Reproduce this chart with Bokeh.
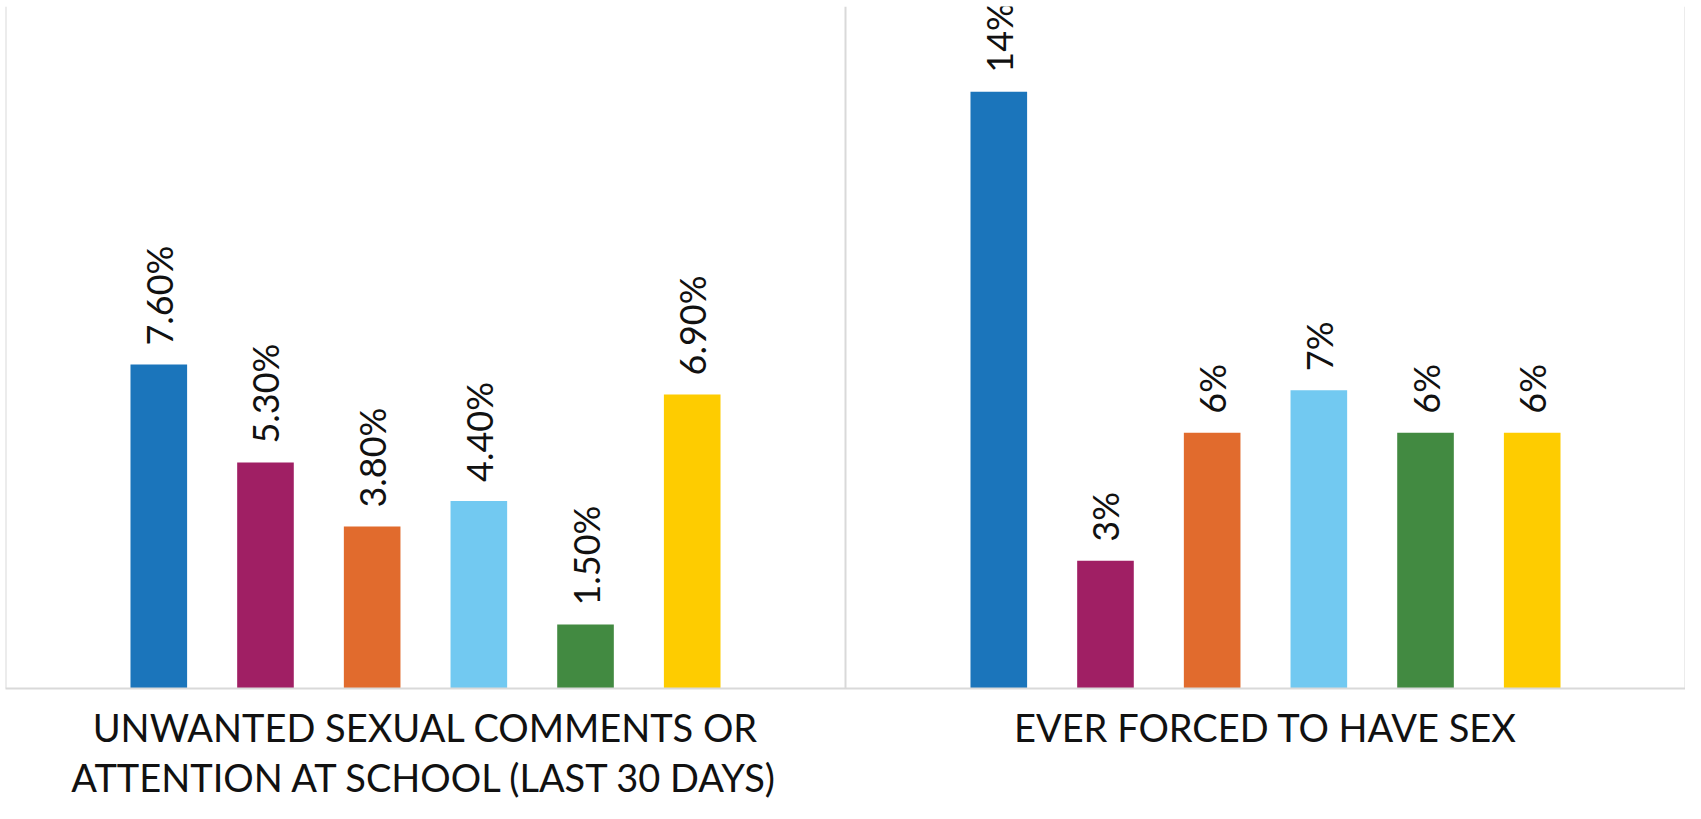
import math
from bokeh.plotting import figure
from bokeh.models import FactorRange, ColumnDataSource, Span
from bokeh.transform import dodge
from bokeh.core.properties import value
from bokeh.embed import file_html
from bokeh.resources import INLINE

# ---- data ----
categories = [
    "UNWANTED SEXUAL COMMENTS OR\nATTENTION AT SCHOOL (LAST 30 DAYS)",
    "EVER FORCED TO HAVE SEX",
]
series_names = ["Series 1", "Series 2", "Series 3", "Series 4", "Series 5", "Series 6"]
series_1 = [7.6, 14.0]
series_2 = [5.3, 3.0]
series_3 = [3.8, 6.0]
series_4 = [4.4, 7.0]
series_5 = [1.5, 6.0]
series_6 = [6.9, 6.0]
labels_1 = ["7.60%", "14%"]
labels_2 = ["5.30%", "3%"]
labels_3 = ["3.80%", "6%"]
labels_4 = ["4.40%", "7%"]
labels_5 = ["1.50%", "6%"]
labels_6 = ["6.90%", "6%"]

series_values = [series_1, series_2, series_3, series_4, series_5, series_6]
series_labels = [labels_1, labels_2, labels_3, labels_4, labels_5, labels_6]
colors = ["#1b75bb", "#a01f64", "#e16b2d", "#72c9f1", "#428a41", "#fecc00"]

FONT = "Lato"
GRID = "#d9d9d9"

p = figure(
    x_range=FactorRange(factors=categories, range_padding=0),
    y_range=(0, 16),
    width=1685,
    height=803,
    output_backend="svg",
    toolbar_location=None,
    y_axis_location=None,
    min_border_left=5,
    min_border_right=0,
    min_border_top=6,
    min_border_bottom=0,
)
p.outline_line_color = None
p.ygrid.grid_line_color = None
p.xgrid.grid_line_color = None

pitch = 0.127
bar_w = 0.0674
for i, (vals, labs, col) in enumerate(zip(series_values, series_labels, colors)):
    src = ColumnDataSource(dict(cat=categories, val=vals, lab=labs))
    off = (i - 2.5) * pitch
    p.vbar(x=dodge("cat", off, range=p.x_range), top="val", width=bar_w,
           source=src, fill_color=col, line_color=None)
    p.text(x=dodge("cat", off, range=p.x_range), y="val", text="lab", source=src,
           angle=math.pi / 2, text_align="left", text_baseline="middle",
           y_offset=-19, text_font=value(FONT), text_font_size="36px",
           text_color="#111111")

for loc in [0, 1, 2]:
    p.add_layout(Span(location=loc, dimension="height", line_color=GRID, line_width=2))

ax = p.xaxis[0]
ax.axis_line_color = GRID
ax.axis_line_width = 2
ax.major_tick_line_color = None
ax.minor_tick_line_color = None
ax.major_label_standoff = 9
ax.major_label_text_font = FONT
ax.major_label_text_font_size = "38px"
ax.major_label_text_color = "#111111"
ax.major_label_text_line_height = 1.1

open("out.html", "w").write(file_html(p, INLINE))
